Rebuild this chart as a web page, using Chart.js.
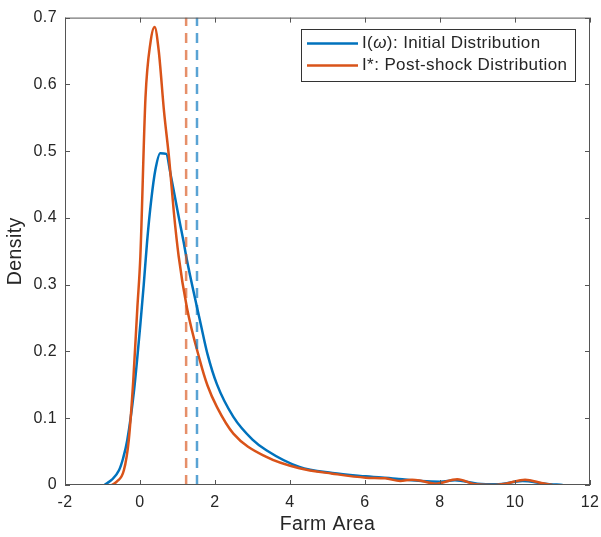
<!DOCTYPE html>
<html>
<head>
<meta charset="utf-8">
<script src="https://cdn.jsdelivr.net/npm/chart.js@4"></script>
<style>
  html, body { margin: 0; padding: 0; background: #fff; }
  #wrap { width: 601px; height: 537px; position: relative; }
</style>
</head>
<body>
<div id="wrap"><canvas id="myChart" width="601" height="537"></canvas></div>
<script>
// values
var initialX = [-0.95, -0.87, -0.75, -0.56, -0.45, -0.34, -0.16, 0.01, 0.10, 0.19, 0.30, 0.41, 0.54, 0.70, 0.81, 1.03, 1.16, 1.23, 1.52, 1.60, 1.80, 2.05, 2.49, 3.0, 3.37, 4.25, 5.13, 6.02, 6.9, 7.5, 8.0, 8.4, 9.0, 9.5, 10.2, 10.8, 11.27];
var initialY = [0.000, 0.003, 0.008, 0.022, 0.040, 0.067, 0.141, 0.241, 0.300, 0.365, 0.427, 0.472, 0.497, 0.496, 0.467, 0.402, 0.365, 0.343, 0.266, 0.246, 0.196, 0.151, 0.102, 0.068, 0.052, 0.027, 0.018, 0.013, 0.009, 0.006, 0.005, 0.007, 0.002, 0.001, 0.006, 0.002, 0.000];
var postX = [-0.75, -0.62, -0.43, -0.30, -0.18, -0.07, 0.01, 0.146, 0.28, 0.39, 0.50, 0.64, 0.78, 0.90, 1.03, 1.25, 1.60, 1.80, 2.05, 2.49, 3.37, 4.25, 5.13, 6.02, 6.54, 6.94, 7.25, 7.52, 7.88, 8.46, 8.95, 9.4, 9.75, 10.27, 10.74, 11.0];
var postY = [0.000, 0.005, 0.022, 0.067, 0.156, 0.266, 0.343, 0.580, 0.663, 0.686, 0.650, 0.560, 0.487, 0.410, 0.343, 0.266, 0.186, 0.149, 0.117, 0.077, 0.042, 0.025, 0.017, 0.011, 0.010, 0.006, 0.008, 0.006, 0.002, 0.0085, 0.001, 0.000, 0.002, 0.008, 0.0025, 0.000];
var meanInitial = 1.52;
var meanPost = 1.23;
var xTicks = [-2, 0, 2, 4, 6, 8, 10, 12];
var yTicks = [0, 0.1, 0.2, 0.3, 0.4, 0.5, 0.6, 0.7];
var labels = ['I(ω): Initial Distribution', 'I*: Post-shock Distribution'];

var blue = '#0072BD';
var orange = '#D95319';
var axisColor = '#555555';
var textColor = '#262626';
var fontFam = '"Liberation Sans", Arial, Helvetica, sans-serif';

function pts(xs, ys) {
  return xs.map(function (x, i) { return {x: x, y: ys[i]}; });
}

// MATLAB-like box with inward ticks on all sides, plus legend inside the axes
var boxPlugin = {
  id: 'matlabBox',
  beforeDraw: function (chart) {
    chart.ctx.letterSpacing = '0.4px';
  },
  afterDraw: function (chart) {
    var c = chart.ctx, a = chart.chartArea;
    var sx = chart.scales.x, sy = chart.scales.y;
    c.save();
    c.strokeStyle = axisColor;
    c.lineWidth = 1;
    c.strokeRect(a.left + 0.5, a.top + 0.5, a.right - a.left - 1, a.bottom - a.top - 1);
    c.beginPath();
    xTicks.forEach(function (t) {
      var px = Math.round(sx.getPixelForValue(t)) + 0.5;
      c.moveTo(px, a.bottom); c.lineTo(px, a.bottom - 5);
      c.moveTo(px, a.top); c.lineTo(px, a.top + 5);
    });
    yTicks.forEach(function (t) {
      var py = Math.round(sy.getPixelForValue(t)) + 0.5;
      c.moveTo(a.left, py); c.lineTo(a.left + 5, py);
      c.moveTo(a.right, py); c.lineTo(a.right - 5, py);
    });
    c.stroke();

    // legend
    var lx = 301, ly = 29, lw = 274, lh = 52;
    c.fillStyle = '#fff';
    c.fillRect(lx, ly, lw, lh);
    c.strokeStyle = '#333';
    c.strokeRect(lx + 0.5, ly + 0.5, lw, lh);
    var rows = [{y: 43.5, col: blue, text: labels[0]}, {y: 65.5, col: orange, text: labels[1]}];
    c.textBaseline = 'middle';
    c.letterSpacing = '0.4px';
    rows.forEach(function (r) {
      c.strokeStyle = r.col;
      c.lineWidth = 2.5;
      c.beginPath(); c.moveTo(307, r.y); c.lineTo(358, r.y); c.stroke();
      c.fillStyle = textColor;
      var x = 362;
      var parts = r.text.split('ω');
      parts.forEach(function (p, i) {
        c.font = '17px ' + fontFam;
        c.fillText(p, x, r.y);
        x += c.measureText(p).width;
        if (i < parts.length - 1) {
          c.font = 'italic 17px ' + fontFam;
          c.fillText('ω', x, r.y);
          x += c.measureText('ω').width;
        }
      });
    });
    c.restore();
  }
};

var ctx = document.getElementById('myChart').getContext('2d');
var myChart = new Chart(ctx, {
  type: 'line',
  data: {
    datasets: [{
      label: labels[0],
      data: pts(initialX, initialY),
      borderColor: blue,
      borderWidth: 2.5,
      pointRadius: 0,
      cubicInterpolationMode: 'monotone',
      order: 2
    }, {
      label: labels[1],
      data: pts(postX, postY),
      borderColor: orange,
      borderWidth: 2.5,
      pointRadius: 0,
      cubicInterpolationMode: 'monotone',
      order: 1
    }, {
      label: 'mean initial',
      data: [{x: meanInitial, y: 0}, {x: meanInitial, y: 0.7}],
      borderColor: 'rgba(0,114,189,0.65)',
      borderWidth: 2.5,
      borderDash: [10, 7],
      pointRadius: 0,
      order: 0
    }, {
      label: 'mean post',
      data: [{x: meanPost, y: 0}, {x: meanPost, y: 0.7}],
      borderColor: 'rgba(217,83,25,0.65)',
      borderWidth: 2.5,
      borderDash: [10, 7],
      pointRadius: 0,
      order: 0
    }]
  },
  options: {
    responsive: false,
    animation: false,
    layout: { padding: { top: 15, right: 11, left: 0, bottom: 0 } },
    plugins: {
      legend: { display: false },
      tooltip: { enabled: false }
    },
    scales: {
      x: {
        type: 'linear',
        min: -2, max: 12,
        afterFit: function (s) { s.height = 52; s.paddingLeft = 0; s.paddingRight = 0; },
        afterBuildTicks: function (s) { s.ticks = xTicks.map(function (v) { return {value: v}; }); },
        grid: { display: false, drawTicks: false },
        border: { display: false },
        ticks: { color: textColor, font: { family: fontFam, size: 16 }, padding: 8, maxRotation: 0 },
        title: { display: true, text: 'Farm Area', color: textColor, font: { family: fontFam, size: 19.5 }, padding: { top: 0, bottom: 1 } }
      },
      y: {
        min: 0, max: 0.7,
        afterFit: function (s) { s.width = 65; },
        afterBuildTicks: function (s) { s.ticks = yTicks.map(function (v) { return {value: v}; }); },
        grid: { display: false, drawTicks: false },
        border: { display: false },
        ticks: {
          color: textColor, font: { family: fontFam, size: 16 }, padding: 8,
          callback: function (v) { return String(Math.round(v * 10) / 10); }
        },
        title: { display: true, text: 'Density', color: textColor, font: { family: fontFam, size: 19.5 }, padding: { top: 4, bottom: 0 } }
      }
    }
  },
  plugins: [boxPlugin]
});
</script>
</body>
</html>
